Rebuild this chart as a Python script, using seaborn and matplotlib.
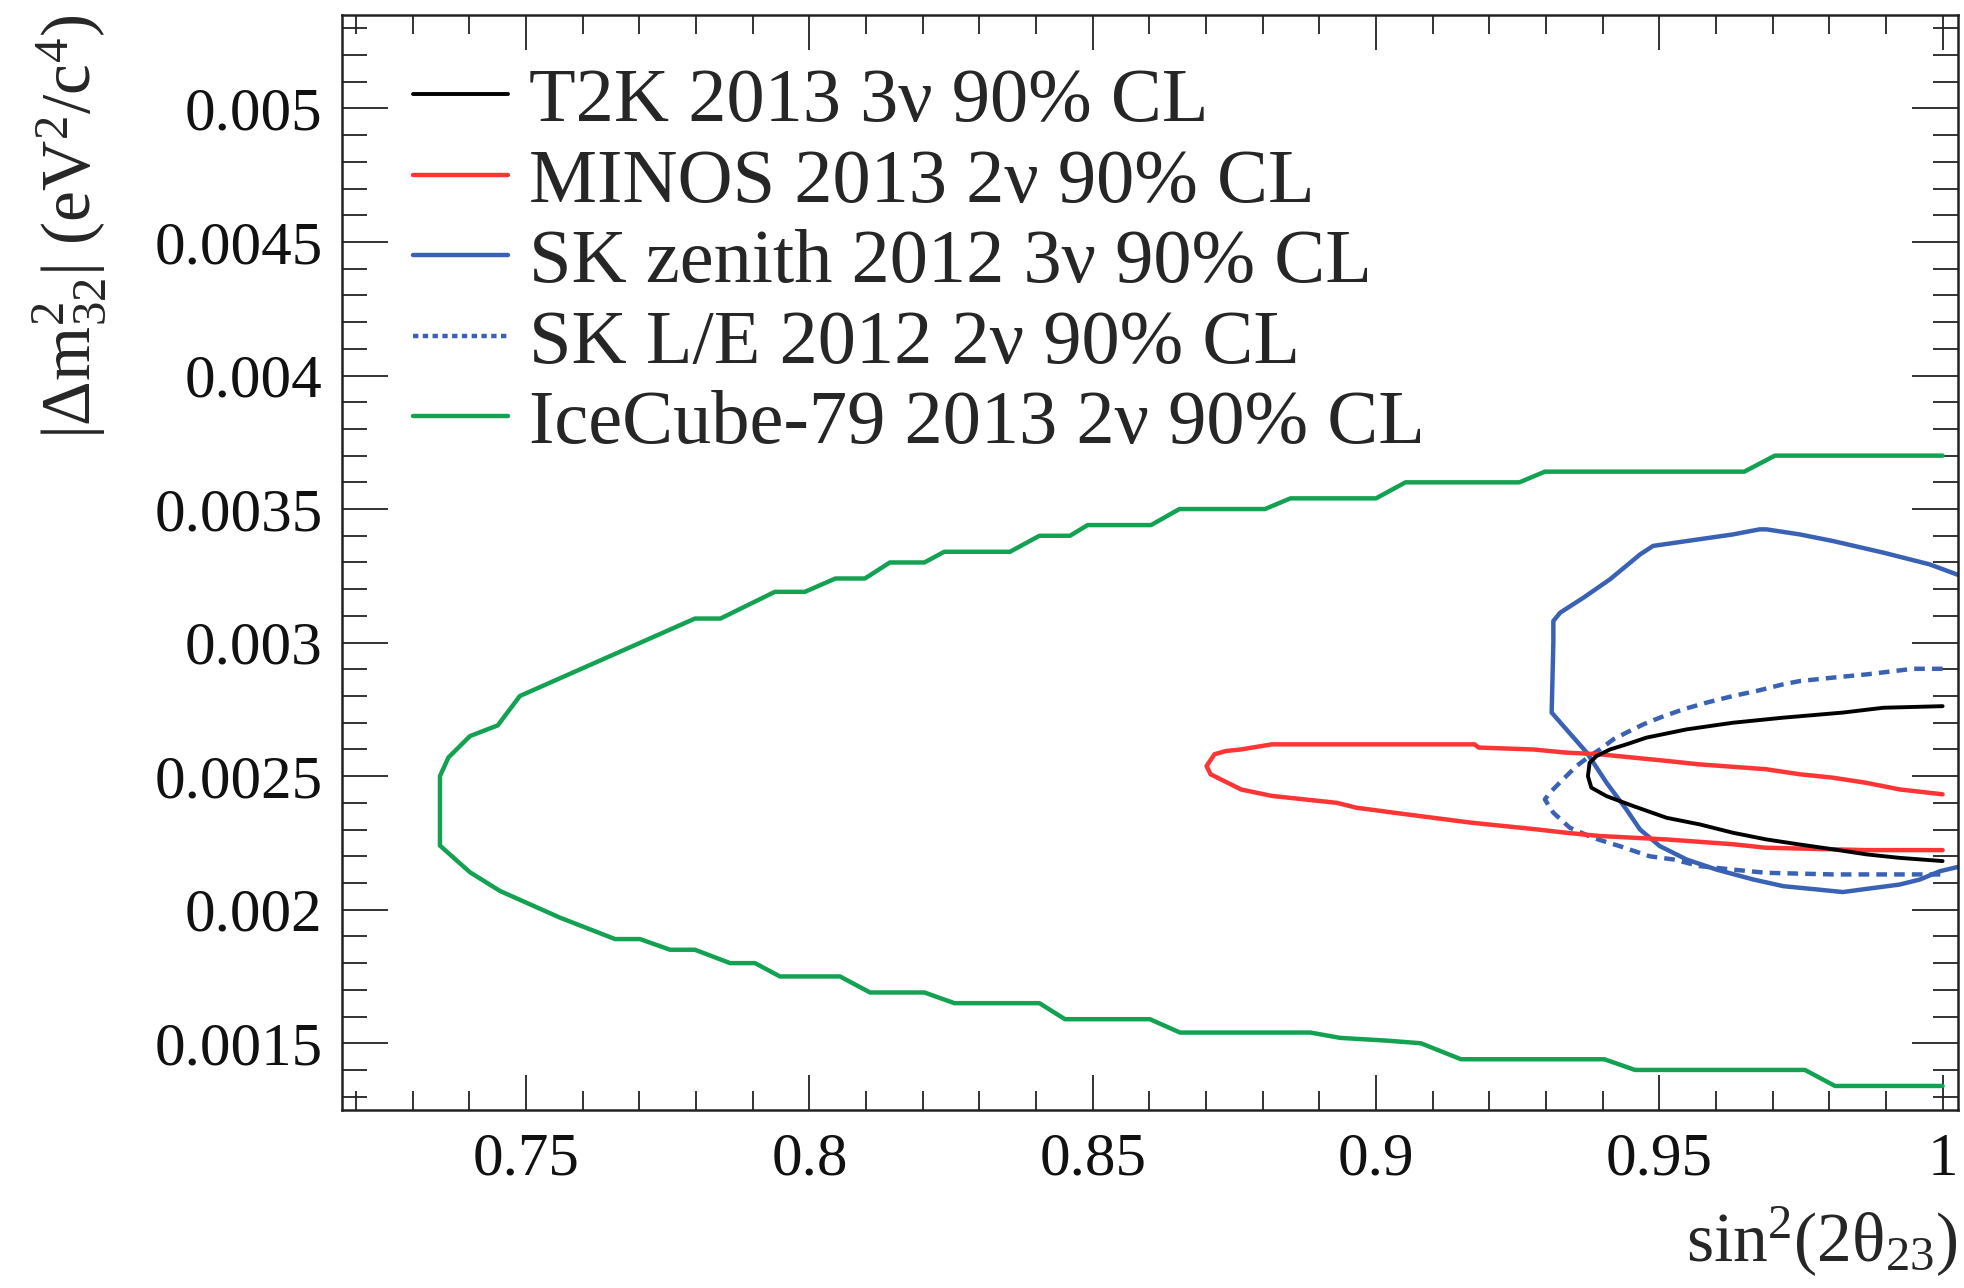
import matplotlib
matplotlib.use("Agg")
import matplotlib.pyplot as plt
from matplotlib.ticker import FixedLocator, FixedFormatter, MultipleLocator
from matplotlib.lines import Line2D
import seaborn as sns

# ---------------- data ----------------
labels = ["T2K 2013 3ν 90% CL", "MINOS 2013 2ν 90% CL", "SK zenith 2012 3ν 90% CL",
          "SK L/E 2012 2ν 90% CL", "IceCube-79 2013 2ν 90% CL"]

t2k_x = [1.0, 0.9895, 0.9824, 0.9719, 0.9630, 0.9548, 0.9477, 0.9442, 0.9413, 0.9389, 0.9377,
         0.9374, 0.9380, 0.9407, 0.9454, 0.9513, 0.9572, 0.9630, 0.9689, 0.9748, 0.9807,
         0.9866, 0.9924, 1.0]
t2k_y = [0.002762, 0.002756, 0.002738, 0.002719, 0.002700, 0.002675, 0.002644, 0.002619,
         0.002600, 0.002575, 0.002550, 0.002500, 0.002457, 0.002425, 0.002388, 0.002344,
         0.002319, 0.002288, 0.002263, 0.002244, 0.002226, 0.002207, 0.002194, 0.002182]

minos_x = [1.0, 0.9925, 0.9865, 0.9807, 0.9748, 0.9688, 0.9571, 0.9513, 0.9394, 0.9336, 0.9277,
           0.9181, 0.9174, 0.8816, 0.8762, 0.8735, 0.8715, 0.8701, 0.8708, 0.8762, 0.8816,
           0.8931, 0.8965, 0.9032, 0.9167, 0.9282, 0.9336, 0.9394, 0.9513, 0.9630, 0.9688,
           0.9807, 0.9865, 1.0]
minos_y = [0.002432, 0.002450, 0.002475, 0.002494, 0.002507, 0.002526, 0.002544, 0.002557,
           0.002582, 0.002588, 0.002600, 0.002607, 0.002619, 0.002619, 0.002600, 0.002594,
           0.002582, 0.002538, 0.002507, 0.002450, 0.002426, 0.002400, 0.002382, 0.002363,
           0.002326, 0.002301, 0.002288, 0.002276, 0.002263, 0.002245, 0.002232, 0.002226,
           0.002223, 0.002223]

skz_x = [1.0033, 0.9977, 0.9895, 0.9807, 0.9748, 0.9689, 0.9677, 0.9630, 0.9548, 0.9489,
         0.9466, 0.9413, 0.9366, 0.9325, 0.9313, 0.9313, 0.9310, 0.9336, 0.9372, 0.9407,
         0.9442, 0.9466, 0.9501, 0.9548, 0.9601, 0.9666, 0.9719, 0.9777, 0.9824, 0.9866,
         0.9924, 0.9960, 0.9995, 1.0033]
skz_y = [0.003249, 0.003293, 0.003337, 0.003380, 0.003405, 0.003424, 0.003424, 0.003405,
         0.003380, 0.003362, 0.003330, 0.003237, 0.003168, 0.003112, 0.003081, 0.003000,
         0.002738, 0.002675, 0.002588, 0.002475, 0.002375, 0.002300, 0.002238, 0.002188,
         0.002150, 0.002113, 0.002088, 0.002076, 0.002066, 0.002078, 0.002094, 0.002113,
         0.002144, 0.002163]

skle_x = [1.0, 0.9948, 0.9866, 0.9807, 0.9748, 0.9719, 0.9672, 0.9630, 0.9583, 0.9542,
          0.9501, 0.9472, 0.9442, 0.9419, 0.9395, 0.9377, 0.9354, 0.9330, 0.9307, 0.9298,
          0.9313, 0.9342, 0.9383, 0.9430, 0.9483, 0.9525, 0.9572, 0.9630, 0.9689, 0.9807,
          0.9924, 1.0]
skle_y = [0.002902, 0.002902, 0.002881, 0.002869, 0.002856, 0.002844, 0.002819, 0.002800,
          0.002775, 0.002750, 0.002719, 0.002694, 0.002663, 0.002638, 0.002600, 0.002575,
          0.002538, 0.002488, 0.002438, 0.002413, 0.002363, 0.002307, 0.002269, 0.002238,
          0.002200, 0.002188, 0.002163, 0.002150, 0.002138, 0.002132, 0.002132, 0.002132]

ice_x = [1.0, 0.9704, 0.9650, 0.9298, 0.9253, 0.9052, 0.9000, 0.8849, 0.8804, 0.8653,
         0.8603, 0.8491, 0.8460, 0.8406, 0.8354, 0.8238, 0.8203, 0.8142, 0.8098, 0.8046,
         0.7992, 0.7939, 0.7843, 0.7798, 0.7489, 0.7450, 0.7401, 0.7363, 0.7348, 0.7348,
         0.7401, 0.7454, 0.7560, 0.7657, 0.7701, 0.7754, 0.7798, 0.7860, 0.7904, 0.7948,
         0.8054, 0.8107, 0.8203, 0.8256, 0.8406, 0.8451, 0.8601, 0.8654, 0.8884, 0.8937,
         0.9017, 0.9079, 0.9150, 0.9403, 0.9457, 0.9757, 0.9810, 1.0]
ice_y = [0.00370, 0.00370, 0.00364, 0.00364, 0.00360, 0.00360, 0.00354, 0.00354, 0.00350,
         0.00350, 0.00344, 0.00344, 0.00340, 0.00340, 0.00334, 0.00334, 0.00330, 0.00330,
         0.00324, 0.00324, 0.00319, 0.00319, 0.00309, 0.00309, 0.00280, 0.00269, 0.00265,
         0.00257, 0.00250, 0.00224, 0.00214, 0.00207, 0.00197, 0.00189, 0.00189, 0.00185,
         0.00185, 0.00180, 0.00180, 0.00175, 0.00175, 0.00169, 0.00169, 0.00165, 0.00165,
         0.00159, 0.00159, 0.00154, 0.00154, 0.00152, 0.00151, 0.00150, 0.00144, 0.00144,
         0.00140, 0.00140, 0.00134, 0.00134]

x_ticks = [0.75, 0.80, 0.85, 0.90, 0.95, 1.00]
x_tick_labels = ["0.75", "0.8", "0.85", "0.9", "0.95", "1"]
y_ticks = [0.0015, 0.002, 0.0025, 0.003, 0.0035, 0.004, 0.0045, 0.005]
y_tick_labels = ["0.0015", "0.002", "0.0025", "0.003", "0.0035", "0.004", "0.0045", "0.005"]

# ---------------- style ----------------
sns.set_theme(style="white")
plt.rcParams['font.family'] = ['Liberation Serif', 'DejaVu Serif']
plt.rcParams['mathtext.fontset'] = 'custom'
plt.rcParams['mathtext.rm'] = 'Liberation Serif'
plt.rcParams['mathtext.it'] = 'Liberation Serif'
plt.rcParams['mathtext.default'] = 'regular'

fig = plt.figure(figsize=(19.64, 12.88), dpi=100)
ax = fig.add_axes([0.1741, 0.1382, 0.8228, 0.8502])

col_black = "#000000"
col_red = "#FF3535"
col_blue = "#3A62B4"
col_green = "#12A252"
dash_style = (0, (2.4, 1.6))

series = [
    (ice_x, ice_y, col_green, "-", 3.2),
    (skz_x, skz_y, col_blue, "-", 3.2),
    (skle_x, skle_y, col_blue, dash_style, 3.2),
    (minos_x, minos_y, col_red, "-", 3.2),
    (t2k_x, t2k_y, col_black, "-", 2.8),
]
for xs, ys, c, ls, lw in series:
    assert len(xs) == len(ys)
    sns.lineplot(x=xs, y=ys, sort=False, estimator=None, color=c, linestyle=ls,
                 linewidth=lw, ax=ax)

ax.set_xlim(0.7175, 1.0027)
ax.set_ylim(0.00125, 0.00535)

ax.xaxis.set_major_locator(FixedLocator(x_ticks))
ax.xaxis.set_major_formatter(FixedFormatter(x_tick_labels))
ax.yaxis.set_major_locator(FixedLocator(y_ticks))
ax.yaxis.set_major_formatter(FixedFormatter(y_tick_labels))
ax.xaxis.set_minor_locator(MultipleLocator(0.01))
ax.yaxis.set_minor_locator(MultipleLocator(0.0001))

tc = "#222222"
ax.tick_params(axis='both', which='both', direction='in', top=True, right=True,
               bottom=True, left=True, color=tc, labelcolor="#111111")
ax.tick_params(axis='x', which='major', length=25, width=1.3, pad=16, labelsize=44)
ax.tick_params(axis='x', which='minor', length=14, width=1.3)
ax.tick_params(axis='y', which='major', length=33, width=1.3, pad=14, labelsize=44)
ax.tick_params(axis='y', which='minor', length=18, width=1.3)
for sp in ax.spines.values():
    sp.set_linewidth(1.8)
    sp.set_color(tc)

ax.set_ylabel(r"$|Δm^{2}_{32}|$ (eV$^{2}$/c$^{4}$)", fontsize=50, loc='top')
ax.yaxis.set_label_coords(-0.145, 1.0)
ax.set_xlabel(r"sin$^{2}$(2θ$_{23}$)", fontsize=50, loc='right')
ax.xaxis.set_label_coords(1.0, -0.087)

handles = [
    Line2D([], [], color=col_black, lw=2.8),
    Line2D([], [], color=col_red, lw=3.2),
    Line2D([], [], color=col_blue, lw=3.2),
    Line2D([], [], color=col_blue, lw=3.2, linestyle=(0, (1.2, 1.0))),
    Line2D([], [], color=col_green, lw=3.2),
]
ax.legend(handles, labels, loc='upper left', bbox_to_anchor=(0.044, 0.952),
          frameon=False, fontsize=55, handlelength=1.24, handletextpad=0.28,
          labelspacing=0.145, borderaxespad=0, borderpad=0)

fig.savefig("out.png", dpi=100, facecolor="white")
